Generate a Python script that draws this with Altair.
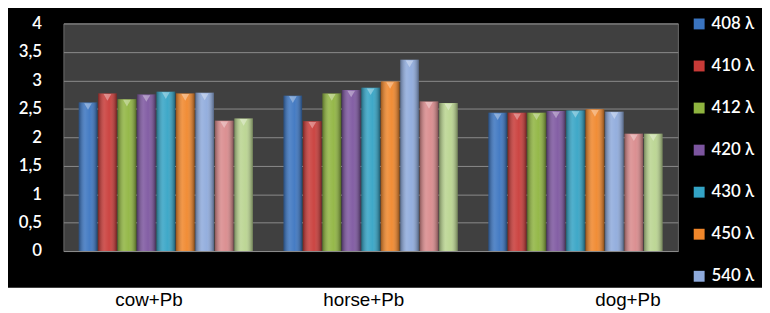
import altair as alt
import pandas as pd

groups = ["cow+Pb", "horse+Pb", "dog+Pb"]
series = ["408 λ", "410 λ", "412 λ", "420 λ", "430 λ", "450 λ", "540 λ", "s8", "s9"]
legend_shown = series[:7]
colors = ["#3a74c0", "#c83a37", "#8fb43f", "#7c559f", "#33a3c5", "#f0862a", "#8eaadc", "#d9898b", "#b9d48f"]

cow = [2.61, 2.77, 2.67, 2.75, 2.80, 2.77, 2.78, 2.29, 2.33]
horse = [2.73, 2.28, 2.77, 2.83, 2.87, 2.98, 3.36, 2.63, 2.60]
dog = [2.43, 2.43, 2.43, 2.46, 2.47, 2.49, 2.45, 2.06, 2.06]

y_ticks = [0, 0.5, 1, 1.5, 2, 2.5, 3, 3.5, 4]

rows = []
for g, vals in zip(groups, [cow, horse, dog]):
    for s, v in zip(series, vals):
        rows.append({"group": g, "series": s, "value": v})
df = pd.DataFrame(rows)

W, H = 621, 230

x_enc = alt.X(
    "group:N", sort=groups, title=None,
    scale=alt.Scale(paddingInner=0.15, paddingOuter=0.075),
    axis=alt.Axis(
        ticks=False, domain=False, labelAngle=0, labelFont="Liberation Sans",
        labelFontSize=19, labelColor="black", labelPadding=40, labelBaseline="top",
        zindex=1,
        labelOffset={"condition": [
            {"test": "datum.value === 'cow+Pb'", "value": -17},
            {"test": "datum.value === 'horse+Pb'", "value": -7}], "value": 53},
    ),
)
xo_enc = alt.XOffset("series:N", sort=series,
                     scale=alt.Scale(paddingInner=0.05, paddingOuter=0))
y_enc = alt.Y(
    "value:Q", title=None,
    scale=alt.Scale(domain=[0, 4], nice=False),
    axis=alt.Axis(
        values=y_ticks, format=".2~f", labelExpr="replace(datum.label, '.', ',')",
        ticks=False, domain=False, labelFont="Lato", labelFontSize=17,
        labelFontWeight=600,
        labelColor="white", labelPadding=22, grid=True, gridColor="#8c8c8c",
        gridWidth=1,
    ),
)

base = alt.Chart(df)

bars = base.mark_bar(width=alt.RelativeBandSize(band=1)).encode(
    x=x_enc, xOffset=xo_enc, y=y_enc,
    color=alt.Color(
        "series:N", sort=series,
        scale=alt.Scale(domain=series, range=colors),
        legend=alt.Legend(
            values=legend_shown, title=None, orient="none", legendX=634, legendY=-8,
            symbolType="square", symbolSize=121, symbolStrokeWidth=0,
            labelFont="Lato", labelFontSize=17, labelFontWeight=600, labelColor="white",
            rowPadding=24.5, padding=0, labelOffset=4, labelLimit=80,
        ),
    ),
)

shade = base.mark_bar(
    fill=alt.Gradient(
        gradient="linear", x1=0, x2=1, y1=0, y2=0,
        stops=[
            alt.GradientStop(offset=0, color="rgba(0,0,0,0.35)"),
            alt.GradientStop(offset=0.35, color="rgba(255,255,255,0.14)"),
            alt.GradientStop(offset=0.6, color="rgba(255,255,255,0.06)"),
            alt.GradientStop(offset=1, color="rgba(0,0,0,0.4)"),
        ],
    )
).encode(x=x_enc, xOffset=xo_enc, y=y_enc)

tri = base.mark_point(
    shape="triangle-down", filled=True, color="white", opacity=0.35,
    size=60, yOffset=4, strokeWidth=0,
).encode(x=x_enc, xOffset=xo_enc, y=y_enc)

strip = alt.Chart(pd.DataFrame({"a": [0]})).mark_rect(color="white").encode(
    x=alt.value(-80), x2=alt.value(W + 120), y=alt.value(H + 37), y2=alt.value(H + 90)
)

chart = alt.layer(bars, shade, tri, strip).properties(
    width=W, height=H,
    background="black",
    autosize=alt.AutoSizeParams(type="none"),
    padding={"left": 56, "top": 14, "right": 85, "bottom": 61},
).configure_view(fill="#404040", stroke="#6a6a6a", strokeWidth=1)

chart.save("out.html", embed_options={"renderer": "svg", "actions": False})
